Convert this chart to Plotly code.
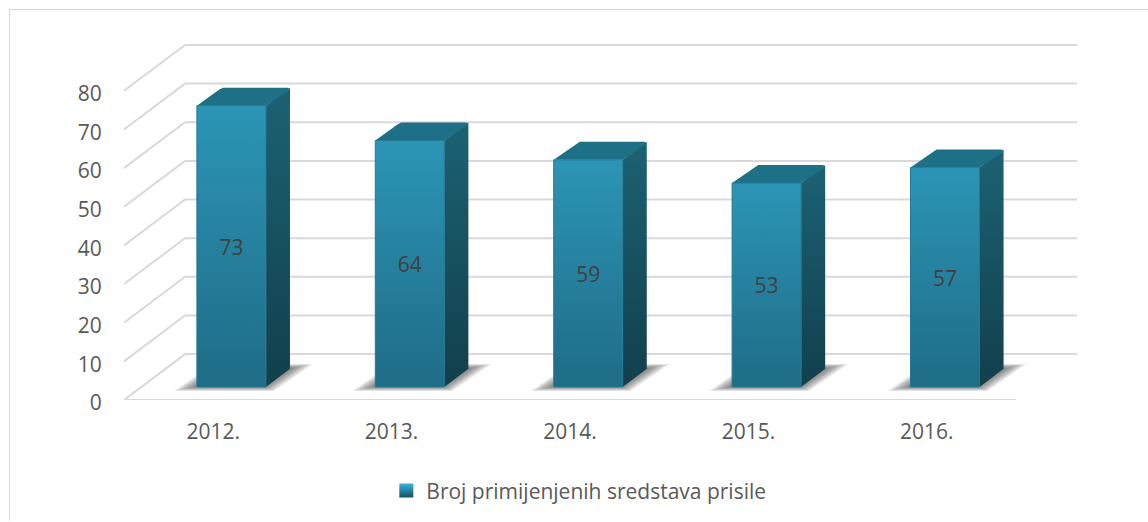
import plotly.graph_objects as go

# ---- data ----
categories = ["2012.", "2013.", "2014.", "2015.", "2016."]
values = [73, 64, 59, 53, 57]
y_ticks = [0, 10, 20, 30, 40, 50, 60, 70, 80]
series_name = "Broj primijenjenih sredstava prisile"

# ---- pseudo-3D projection, expressed in axis units ----
PX_X = 1 / 178.4     # one pixel in x units
PX_Y = 1 / 3.875     # one pixel in y units
DEPTH_X = 61 * PX_X
DEPTH_Y = 46 * PX_Y
BAR_W = 69 * PX_X
F0, F1 = 0.285, 0.68  # bar front/back along the floor depth
SHIFT = 0.8 * PX_X


def proj(x, y, d=0.0):
    return x + SHIFT + d * DEPTH_X, y + d * DEPTH_Y


def poly(points, **kw):
    xs = [p[0] for p in points] + [points[0][0]]
    ys = [p[1] for p in points] + [points[0][1]]
    return go.Scatter(x=xs, y=ys, mode="lines", fill="toself", hoverinfo="skip",
                      showlegend=False, **kw)


def vgrad(bottom, top):
    return dict(type="vertical", colorscale=[[0, bottom], [1, top]])


fig = go.Figure()
GRID = "#D9D9D9"

# walls: side lines and back lines
sx, sy, bx, by = [], [], [], []
for t in y_ticks:
    x0, y0 = -0.5, t
    x1, y1 = -0.5 + DEPTH_X, t + DEPTH_Y
    sx += [x0, x1, None]
    sy += [y0, y1, None]
    bx += [x1, x1 + len(categories), None]
    by += [y1, y1, None]
fig.add_trace(go.Scatter(x=sx, y=sy, mode="lines", line=dict(color=GRID, width=2),
                         hoverinfo="skip", showlegend=False))
fig.add_trace(go.Scatter(x=bx, y=by, mode="lines", line=dict(color=GRID, width=2),
                         hoverinfo="skip", showlegend=False))
fig.add_trace(go.Scatter(x=[-0.5, len(categories) - 0.5], y=[0, 0], mode="lines",
                         line=dict(color=GRID, width=2), hoverinfo="skip", showlegend=False))

# floor shadows (stacked translucent layers that fade outwards)
SHADOW = [(-23, 4), (77, 4), (116, -23), (16, -23)]
cx = sum(p[0] for p in SHADOW) / 4
cy = sum(p[1] for p in SHADOW) / 4
for i, _ in enumerate(values):
    lx, by0 = proj(i - BAR_W / 2, 0, F0)
    for k in range(14):
        s = 1 - k * 0.04
        pts = [(lx + (cx + (p[0] - cx) * s) * PX_X,
                by0 + (-(cy + (p[1] - cy) * s)) * PX_Y) for p in SHADOW]
        fig.add_trace(poly(pts, line=dict(width=0), fillcolor="rgba(60,60,60,0.10)"))

# bars: side, top, front
ch = 2.0
for i, v in enumerate(values):
    l, r = i - BAR_W / 2, i + BAR_W / 2
    top = v - 0.25
    fig.add_trace(poly([proj(r, 0, F0), proj(r, 0, F1), proj(r, top, F1), proj(r, top, F0)],
                       line=dict(width=0), fillgradient=vgrad("#123F4C", "#1C6273")))
    a = proj(l, top, F1)
    b = proj(r, top, F1)
    c = proj(r, top, F0)
    d = proj(l, top, F0)
    fig.add_trace(poly([d, (a[0] - ch * PX_X, a[1] - ch * PX_Y), (a[0] + ch * PX_X, a[1]),
                        (b[0] - ch * PX_X, b[1]), (b[0], b[1] - ch * PX_Y), c],
                       line=dict(width=0), fillcolor="#1E7087"))
    fig.add_trace(poly([proj(l, 0, F0), proj(r, 0, F0), proj(r, top, F0), proj(l, top, F0)],
                       line=dict(width=1, color="#237A94"),
                       fillgradient=vgrad("#1F6C86", "#2C95B6")))

# data labels at the middle of each front face
lab = [proj(i, v / 2 - 0.9, F0) for i, v in enumerate(values)]
fig.add_trace(go.Scatter(x=[p[0] for p in lab], y=[p[1] for p in lab], mode="text",
                         text=[str(v) for v in values], textposition="middle center",
                         textfont=dict(family="Open Sans", size=21, color="#404040"),
                         hoverinfo="skip", showlegend=False))

# legend entry
fig.add_trace(go.Scatter(x=[None], y=[None], mode="markers", name=series_name,
                         marker=dict(symbol="square", size=14, color="#38B6DC",
                                     gradient=dict(type="vertical", color="#164F61"),
                                     line=dict(width=0))))

L, R, T, B = 124, 1100, 20, 401
fig.update_layout(
    width=1148, height=522,
    margin=dict(l=L, r=1148 - R, t=T, b=522 - B, pad=0),
    paper_bgcolor="white", plot_bgcolor="white",
    font=dict(family="Open Sans", color="#595959", size=21),
    showlegend=True,
    legend=dict(orientation="h", x=0.466, xanchor="center", y=-0.236, yanchor="middle",
                font=dict(size=21, color="#595959"), bgcolor="rgba(0,0,0,0)"),
    xaxis=dict(range=[-0.5, -0.5 + (R - L) * PX_X], tickmode="array",
               tickvals=list(range(len(categories))), ticktext=categories,
               showgrid=False, zeroline=False, showline=False, ticks="outside",
               ticklen=13, tickcolor="rgba(0,0,0,0)", fixedrange=True),
    yaxis=dict(range=[0, (B - T) * PX_Y], tickmode="array", tickvals=y_ticks,
               showgrid=False, zeroline=False, showline=False, ticks="outside",
               ticklen=17, tickcolor="rgba(0,0,0,0)", fixedrange=True, ticklabelshift=3),
    shapes=[
        dict(type="line", xref="paper", yref="paper", x0=(9 - L) / (R - L), x1=(1148 - L) / (R - L),
             y0=(B - 9.5) / (B - T), y1=(B - 9.5) / (B - T), line=dict(color=GRID, width=1)),
        dict(type="line", xref="paper", yref="paper", x0=(9.5 - L) / (R - L), x1=(9.5 - L) / (R - L),
             y0=(B - 9.5) / (B - T), y1=(B - 522) / (B - T), line=dict(color=GRID, width=1)),
    ],
)

fig.write_html("out.html", config=dict(displayModeBar=False),
               post_script="document.body.style.margin='0';")
